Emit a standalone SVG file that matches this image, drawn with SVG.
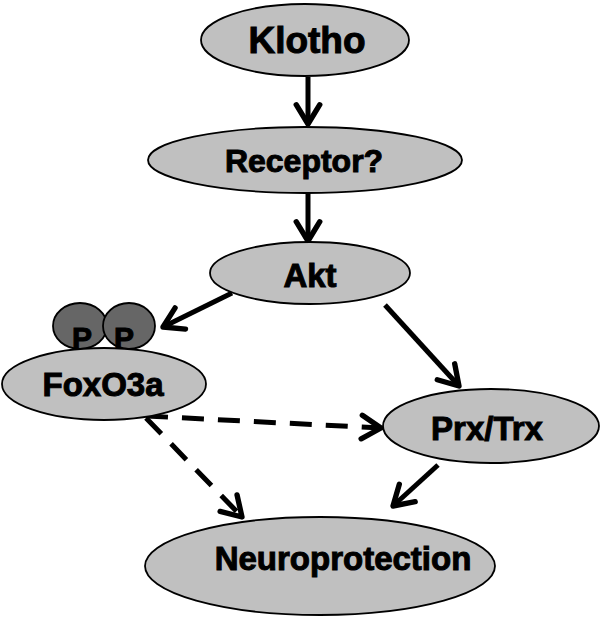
<svg xmlns="http://www.w3.org/2000/svg" width="600" height="620" viewBox="0 0 600 620">
<style>
.n{fill:#c0c0c0;stroke:#000;stroke-width:1.8}
.p{fill:#666;stroke:#000;stroke-width:1.8}
.t{font-family:"Liberation Sans",Arial,sans-serif;font-weight:bold;fill:#000;stroke:#000;stroke-width:1;text-anchor:middle}
.a{stroke:#000;stroke-width:5;fill:none;marker-end:url(#ah)}
.d{stroke:#000;stroke-width:5;fill:none;stroke-dasharray:22 14;marker-end:url(#ah)}
</style>
<defs>
<marker id="ah" markerUnits="userSpaceOnUse" markerWidth="30" markerHeight="30" viewBox="-22 -14 26 28" refX="0" refY="0" orient="auto">
<path d="M-18,-11 L0,0 L-18,11" fill="none" stroke="#000" stroke-width="5" stroke-linecap="round" stroke-linejoin="round"/>
</marker>
</defs>
<rect width="600" height="620" fill="#fff"/>
<g id="connectors">
<line class="a" x1="308" y1="77" x2="308" y2="124"/>
<line class="a" x1="308" y1="193" x2="308" y2="241"/>
<line class="a" x1="232" y1="293" x2="163" y2="327"/>
<line class="a" x1="385" y1="305" x2="459" y2="386"/>
<line class="a" x1="438" y1="465" x2="393" y2="506"/>
<line class="d" x1="146" y1="416" x2="381" y2="428"/>
<line class="d" x1="146" y1="418" x2="242" y2="517"/>
</g>
<g id="klotho">
<ellipse class="n" cx="305" cy="40" rx="104" ry="36"/>
<text class="t" x="307" y="53" font-size="37">Klotho</text>
</g>
<g id="receptor">
<ellipse class="n" cx="305" cy="160" rx="157" ry="33"/>
<text class="t" x="304" y="172" font-size="32">Receptor?</text>
</g>
<g id="akt">
<ellipse class="n" cx="310" cy="273" rx="100" ry="31"/>
<text class="t" x="310" y="287" font-size="33">Akt</text>
</g>
<g id="foxo3a">
<ellipse class="p" cx="80" cy="326" rx="27" ry="23"/>
<ellipse class="p" cx="129" cy="326" rx="26" ry="23"/>
<text class="t" x="82" y="348" font-size="30">P</text>
<text class="t" x="124" y="348" font-size="30">P</text>
<ellipse class="n" cx="104" cy="384" rx="102" ry="36"/>
<text class="t" x="103" y="396" font-size="33">FoxO3a</text>
</g>
<g id="prxtrx">
<ellipse class="n" cx="491" cy="426" rx="108" ry="37"/>
<text class="t" x="487" y="440" font-size="33">Prx/Trx</text>
</g>
<g id="neuroprotection">
<ellipse class="n" cx="320" cy="566" rx="175" ry="49"/>
<text class="t" x="343" y="570" font-size="33">Neuroprotection</text>
</g>
</svg>
